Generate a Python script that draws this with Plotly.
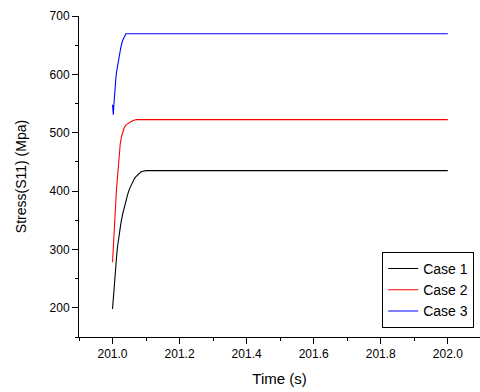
import plotly.graph_objects as go

# Time (s) and stress (MPa)
t_case1 = [201.0, 201.0025, 201.005, 201.0075, 201.01, 201.0125, 201.015, 201.0175, 201.02, 201.025,
           201.03, 201.035, 201.04, 201.045, 201.05, 201.055, 201.06, 201.065, 201.07, 201.075,
           201.08, 201.085, 201.09, 201.095, 201.1, 202.0]
s_case1 = [198, 220, 240, 258, 275, 291, 305, 317, 328, 345,
           360, 373, 384, 394, 403, 410, 416, 421, 425, 428,
           431, 433, 434, 435, 435, 435]

t_case2 = [201.0, 201.0015, 201.003, 201.0045, 201.006, 201.008, 201.01, 201.012, 201.014, 201.016,
           201.018, 201.0205, 201.023, 201.027, 201.031, 201.035, 201.04, 201.046, 201.053, 201.06,
           201.066, 201.071, 202.0]
s_case2 = [278, 297, 315, 333, 350, 372, 390, 405, 418, 436,
           452, 468, 481, 494, 504, 509, 513, 516, 518.5, 520.5,
           521.8, 522.5, 522.5]

t_case3 = [201.0, 201.0012, 201.0024, 201.004, 201.0055, 201.0075, 201.0095, 201.012, 201.0155, 201.02,
           201.025, 201.03, 201.035, 201.0375, 201.04, 202.0]
s_case3 = [548, 539, 531, 548, 563, 578, 590, 604, 618, 634,
           647, 658, 665, 668, 669.5, 669.5]

names = ["Case 1", "Case 2", "Case 3"]
colors = ["#000000", "#ff0000", "#0000ff"]

x_ticks = [201.0, 201.2, 201.4, 201.6, 201.8, 202.0]
x_labels = ["201.0", "201.2", "201.4", "201.6", "201.8", "202.0"]
y_ticks = [200, 300, 400, 500, 600, 700]

fig = go.Figure()
for tx, sy, nm, col in zip([t_case1, t_case2, t_case3], [s_case1, s_case2, s_case3], names, colors):
    fig.add_trace(go.Scatter(x=tx, y=sy, mode="lines", name=nm,
                             line=dict(color=col, width=1.1)))

fig.update_layout(
    width=480, height=392,
    margin=dict(l=79, r=0, t=16, b=55),
    paper_bgcolor="white", plot_bgcolor="white",
    font=dict(family="Arial, Liberation Sans, sans-serif", size=12, color="black"),
    showlegend=True,
    legend=dict(x=0.756, y=0.265, xanchor="left", yanchor="top",
                bordercolor="black", borderwidth=1, bgcolor="white",
                font=dict(size=14), tracegroupgap=0, itemwidth=30),
)
fig.update_xaxes(
    range=[200.9, 202.096], showgrid=False, zeroline=False,
    showline=True, linecolor="black", linewidth=1,
    tickmode="array", tickvals=x_ticks, ticktext=x_labels,
    ticks="outside", ticklen=6, tickcolor="black",
    minor=dict(dtick=0.1, tick0=201.0, ticks="outside", ticklen=3, tickcolor="black"),
    title=dict(text="Time (s)", font=dict(size=15), standoff=13),
)
fig.update_yaxes(
    range=[150, 700], showgrid=False, zeroline=False,
    showline=True, linecolor="black", linewidth=1,
    tickmode="array", tickvals=y_ticks,
    ticks="outside", ticklen=6, tickcolor="black",
    minor=dict(dtick=50, tick0=150, ticks="outside", ticklen=3, tickcolor="black"),
    title=dict(text="Stress(S11) (Mpa)", font=dict(size=14), standoff=19),
)

fig.write_html("out.html")
